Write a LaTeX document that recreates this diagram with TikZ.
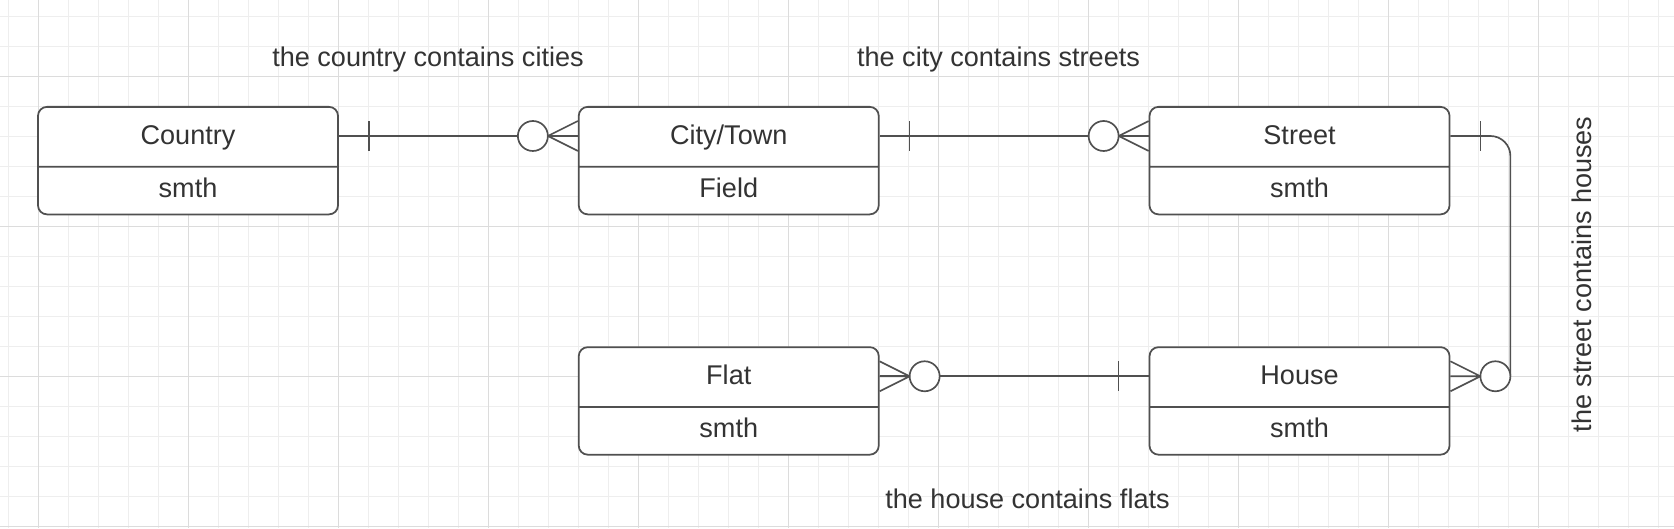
\documentclass[tikz,border=0pt]{standalone}
\usepackage{fontspec}
\setmainfont{Liberation Sans}
\usetikzlibrary{positioning,shapes.multipart}
\definecolor{GridMinor}{HTML}{EEEEEE}
\definecolor{GridMajor}{HTML}{DCDCDC}
\definecolor{EdgeGray}{HTML}{505050}
\definecolor{InkGray}{HTML}{333333}
\tikzset{
  entity/.style={draw=EdgeGray,line width=1pt,rounded corners=1.8mm,fill=white,
    rectangle split,rectangle split parts=2,minimum width=6cm,inner ysep=0pt,
    text=InkGray,font=\fontsize{15.4}{18}\selectfont},
  rel/.style={draw=EdgeGray,line width=0.95pt},
  relname/.style={text=InkGray,font=\fontsize{15.4}{18}\selectfont},
  onebar/.pic={\draw[rel] (0.6,-0.3) -- (0.6,0.3);},
  zeromany/.pic={\draw[rel] (0,0.3) -- (-0.6,0) -- (0,-0.3) (0,0) -- (-0.6,0);
    \draw[rel,fill=white] (-0.9,0) circle (0.3);}
}
\newcommand{\headpart}[1]{\rule[-0.43cm]{0pt}{1.16cm}#1}
\newcommand{\bodypart}[1]{\rule[-0.33cm]{0pt}{0.92cm}#1}
\begin{document}
\begin{tikzpicture}
  \useasboundingbox (0,0) rectangle (33.48,10.56);
  \fill[white] (0,0) rectangle (33.48,10.56);
  % grid
  \foreach \k in {0,...,55}
    \draw[GridMinor,line width=0.5pt] ({0.16+0.6*\k},0) -- ++(0,10.56);
  \foreach \k in {0,...,17}
    \draw[GridMinor,line width=0.5pt] (0,{10.24-0.6*\k}) -- ++(33.48,0);
  \foreach \k in {0,...,10}
    \draw[GridMajor,line width=0.5pt] ({0.76+3*\k},0) -- ++(0,10.56);
  \foreach \k in {0,...,3}
    \draw[GridMajor,line width=0.5pt] (0,{9.04-3*\k}) -- ++(33.48,0);

  % entities
  \node[entity,anchor=north] (country) at (3.76,8.44)
    {\headpart{Country}\nodepart{two}\bodypart{smth}};
  \node[entity,right=4.78cm of country] (city)
    {\headpart{City/Town}\nodepart{two}\bodypart{Field}};
  \node[entity,right=5.38cm of city] (street)
    {\headpart{Street}\nodepart{two}\bodypart{smth}};
  \node[entity,below=2.62cm of city] (flat)
    {\headpart{Flat}\nodepart{two}\bodypart{smth}};
  \node[entity,right=5.38cm of flat] (house)
    {\headpart{House}\nodepart{two}\bodypart{smth}};

  % relations
  \draw[rel] ([yshift=-6mm]country.north east) -- ([yshift=-6mm]city.north west);
  \pic at ([yshift=-6mm]country.north east) {onebar};
  \pic at ([yshift=-6mm]city.north west) {zeromany};

  \draw[rel] ([yshift=-6mm]city.north east) -- ([yshift=-6mm]street.north west);
  \pic at ([yshift=-6mm]city.north east) {onebar};
  \pic at ([yshift=-6mm]street.north west) {zeromany};

  \draw[rel,rounded corners=4mm] ([yshift=-6mm]street.north east)
    -| ([xshift=12mm,yshift=-6mm]house.north east);
  \pic at ([yshift=-6mm]street.north east) {onebar};
  \pic[rotate=180] at ([yshift=-6mm]house.north east) {zeromany};

  \draw[rel] ([yshift=-6mm]house.north west) -- ([yshift=-6mm]flat.north east);
  \pic[rotate=180] at ([yshift=-6mm]house.north west) {onebar};
  \pic[rotate=180] at ([yshift=-6mm]flat.north east) {zeromany};

  % relation names
  \node[relname] (cities) at (8.56,9.36) {the country contains cities};
  \node[relname] (streets) at (19.97,9.36) {the city contains streets};
  \node[relname] (flats) at (20.55,0.59) {the house contains flats};
  \node[relname,rotate=90] (houses) at (31.64,5.07) {the street contains houses};
\end{tikzpicture}
\end{document}
